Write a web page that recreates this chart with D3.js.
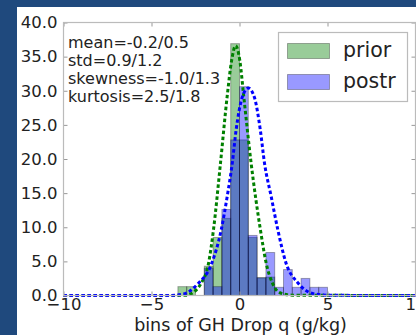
<!DOCTYPE html>
<html>
<head>
<meta charset="utf-8">
<script src="https://cdn.jsdelivr.net/npm/d3@7"></script>
<style>
  html, body { margin: 0; padding: 0; background: #1f497d; }
  svg { display: block; }
  text { font-family: "DejaVu Sans", sans-serif; fill: #222; }
</style>
</head>
<body>
<figure id="chart" style="margin:0"></figure>
<script>
// histogram bins (left edges, width 0.5)
const binStart = [-3.5, -3, -2.5, -2, -1.5, -1, -0.5, 0, 0.5, 1, 1.5, 2, 2.5, 3, 3.5, 4, 4.5];
const binWidth = 0.5;
const priorCounts = [1.3, 1.3, 0, 4.3, 8.5, 11.3, 36.9, 22.8, 8.5, 2.6, 2.7, 0, 0, 0, 0, 0, 0];
const postrCounts = [0, 0, 0, 4.0, 1.3, 12.6, 22.8, 30.6, 8.8, 2.6, 6.3, 1.2, 3.8, 1.2, 2.5, 1.2, 1.2];

// fitted curves, points
const priorCurveX = [-10, -4, -3, -2.6, -2.18, -1.76, -1.48, -1.08, -0.70, -0.45, -0.22, 0.02, 0.24, 0.66, 1.19, 1.52, 1.875, 2.3, 3, 10];
const priorCurveY = [0, 0, 0.05, 0.5, 1.8, 4.7, 9.6, 19.4, 29.2, 34.4, 36.6, 34.4, 29.2, 19.4, 9.6, 4.7, 1.8, 0.4, 0.05, 0];
const postrCurveX = [-10, -4, -3.2, -2.37, -1.58, -1.04, -0.70, -0.41, -0.19, 0.15, 0.5, 0.85, 1.18, 1.42, 1.8, 2.18, 2.65, 3.3, 4.15, 5, 10];
const postrCurveY = [0, 0, 0.2, 1.7, 4.7, 9.6, 14.5, 19.4, 24.3, 29.0, 30.4, 29.0, 24.3, 19.4, 14.5, 9.6, 4.7, 1.9, 0.3, 0.03, 0];

const xTicks = [-10, -5, 0, 5, 10];
const yTicks = [0, 5, 10, 15, 20, 25, 30, 35, 40];
const statLines = ["mean=-0.2/0.5", "std=0.9/1.2", "skewness=-1.0/1.3", "kurtosis=2.5/1.8"];
const legendLabels = ["prior", "postr"];
const xLabel = "bins of GH Drop q (g/kg)";

const W = 416, H = 335;
const mLeft = 63.5, mRight = 415.5, mTop = 22.5, mBottom = 295.5;

const svg = d3.select("#chart").append("svg")
  .attr("width", W)
  .attr("height", H);

svg.append("rect")
  .attr("x", 17).attr("y", 7)
  .attr("width", W - 17).attr("height", H - 7)
  .attr("fill", "#fff");

const x = d3.scaleLinear().domain([-10, 10]).range([mLeft, mRight]);
const y = d3.scaleLinear().domain([0, 40]).range([mBottom, mTop]);

function drawBars(counts, color) {
  const data = binStart.map((b, i) => ({ b: b, v: counts[i] })).filter(d => d.v > 0);
  svg.append("g").selectAll("rect")
    .data(data)
    .enter()
    .append("rect")
    .attr("x", d => x(d.b))
    .attr("y", d => y(d.v))
    .attr("width", d => x(d.b + binWidth) - x(d.b))
    .attr("height", d => y(0) - y(d.v))
    .attr("fill", color)
    .attr("fill-opacity", 0.4)
    .attr("stroke", "#000")
    .attr("stroke-opacity", 0.3)
    .attr("stroke-width", 1);
}

drawBars(priorCounts, "#008000");
drawBars(postrCounts, "#0000ff");

const line = d3.line()
  .x(d => x(d[0]))
  .y(d => y(d[1]))
  .curve(d3.curveMonotoneX);

function drawCurve(xs, ys, color) {
  svg.append("path")
    .datum(xs.map((v, i) => [v, ys[i]]))
    .attr("d", line)
    .attr("fill", "none")
    .attr("stroke", color)
    .attr("stroke-width", 3)
    .attr("stroke-dasharray", "3.5,2.5");
}

drawCurve(priorCurveX, priorCurveY, "#008000");
drawCurve(postrCurveX, postrCurveY, "#0000ff");

// axes, ticks pointing inward
svg.append("g")
  .attr("transform", "translate(" + mLeft + ",0)")
  .call(d3.axisLeft(y).tickValues(yTicks).tickFormat(d3.format(".1f")).tickSizeInner(-4).tickSizeOuter(0).tickPadding(6))
  .call(g => g.select(".domain").remove())
  .call(g => g.selectAll("line").attr("stroke", "#999"))
  .selectAll("text").attr("font-size", 16.5).attr("fill", "#222");

svg.append("g")
  .attr("transform", "translate(" + mRight + ",0)")
  .call(d3.axisRight(y).tickValues(yTicks).tickFormat("").tickSizeInner(-4).tickSizeOuter(0))
  .call(g => g.select(".domain").remove())
  .call(g => g.selectAll("line").attr("stroke", "#999"));

svg.append("g")
  .attr("transform", "translate(0," + mBottom + ")")
  .call(d3.axisBottom(x).tickValues(xTicks).tickSizeInner(-4).tickSizeOuter(0).tickPadding(3))
  .call(g => g.select(".domain").remove())
  .call(g => g.selectAll("line").attr("stroke", "#999"))
  .selectAll("text").attr("font-size", 16.5).attr("fill", "#222");

svg.append("g")
  .attr("transform", "translate(0," + mTop + ")")
  .call(d3.axisTop(x).tickValues(xTicks).tickFormat("").tickSizeInner(-4).tickSizeOuter(0))
  .call(g => g.select(".domain").remove())
  .call(g => g.selectAll("line").attr("stroke", "#999"));

// spines
svg.append("rect")
  .attr("x", mLeft).attr("y", mTop)
  .attr("width", mRight - mLeft).attr("height", mBottom - mTop)
  .attr("fill", "none")
  .attr("stroke", "#bbb")
  .attr("stroke-width", 1.2);

svg.append("text")
  .attr("x", (mLeft + mRight) / 2 + 1)
  .attr("y", 331)
  .attr("text-anchor", "middle")
  .attr("font-size", 17.5)
  .text(xLabel);

// stats box
svg.append("g").selectAll("text")
  .data(statLines)
  .enter()
  .append("text")
  .attr("x", 68)
  .attr("y", (d, i) => 48 + i * 18)
  .attr("font-size", 16)
  .text(d => d);

// legend
const legend = svg.append("g");
legend.append("rect")
  .attr("x", 278.5).attr("y", 32.5)
  .attr("width", 129).attr("height", 69)
  .attr("fill", "#fff")
  .attr("stroke", "#bbb")
  .attr("stroke-width", 1.2);

const legendColors = ["#008000", "#0000ff"];
legendLabels.forEach((lab, i) => {
  legend.append("rect")
    .attr("x", 287.5).attr("y", 43.5 + i * 31)
    .attr("width", 42).attr("height", 15)
    .attr("fill", legendColors[i])
    .attr("fill-opacity", 0.4)
    .attr("stroke", "#000")
    .attr("stroke-opacity", 0.3);
  legend.append("text")
    .attr("x", 343)
    .attr("y", 57 + i * 31)
    .attr("font-size", 20.5)
    .text(lab);
});
</script>
</body>
</html>
